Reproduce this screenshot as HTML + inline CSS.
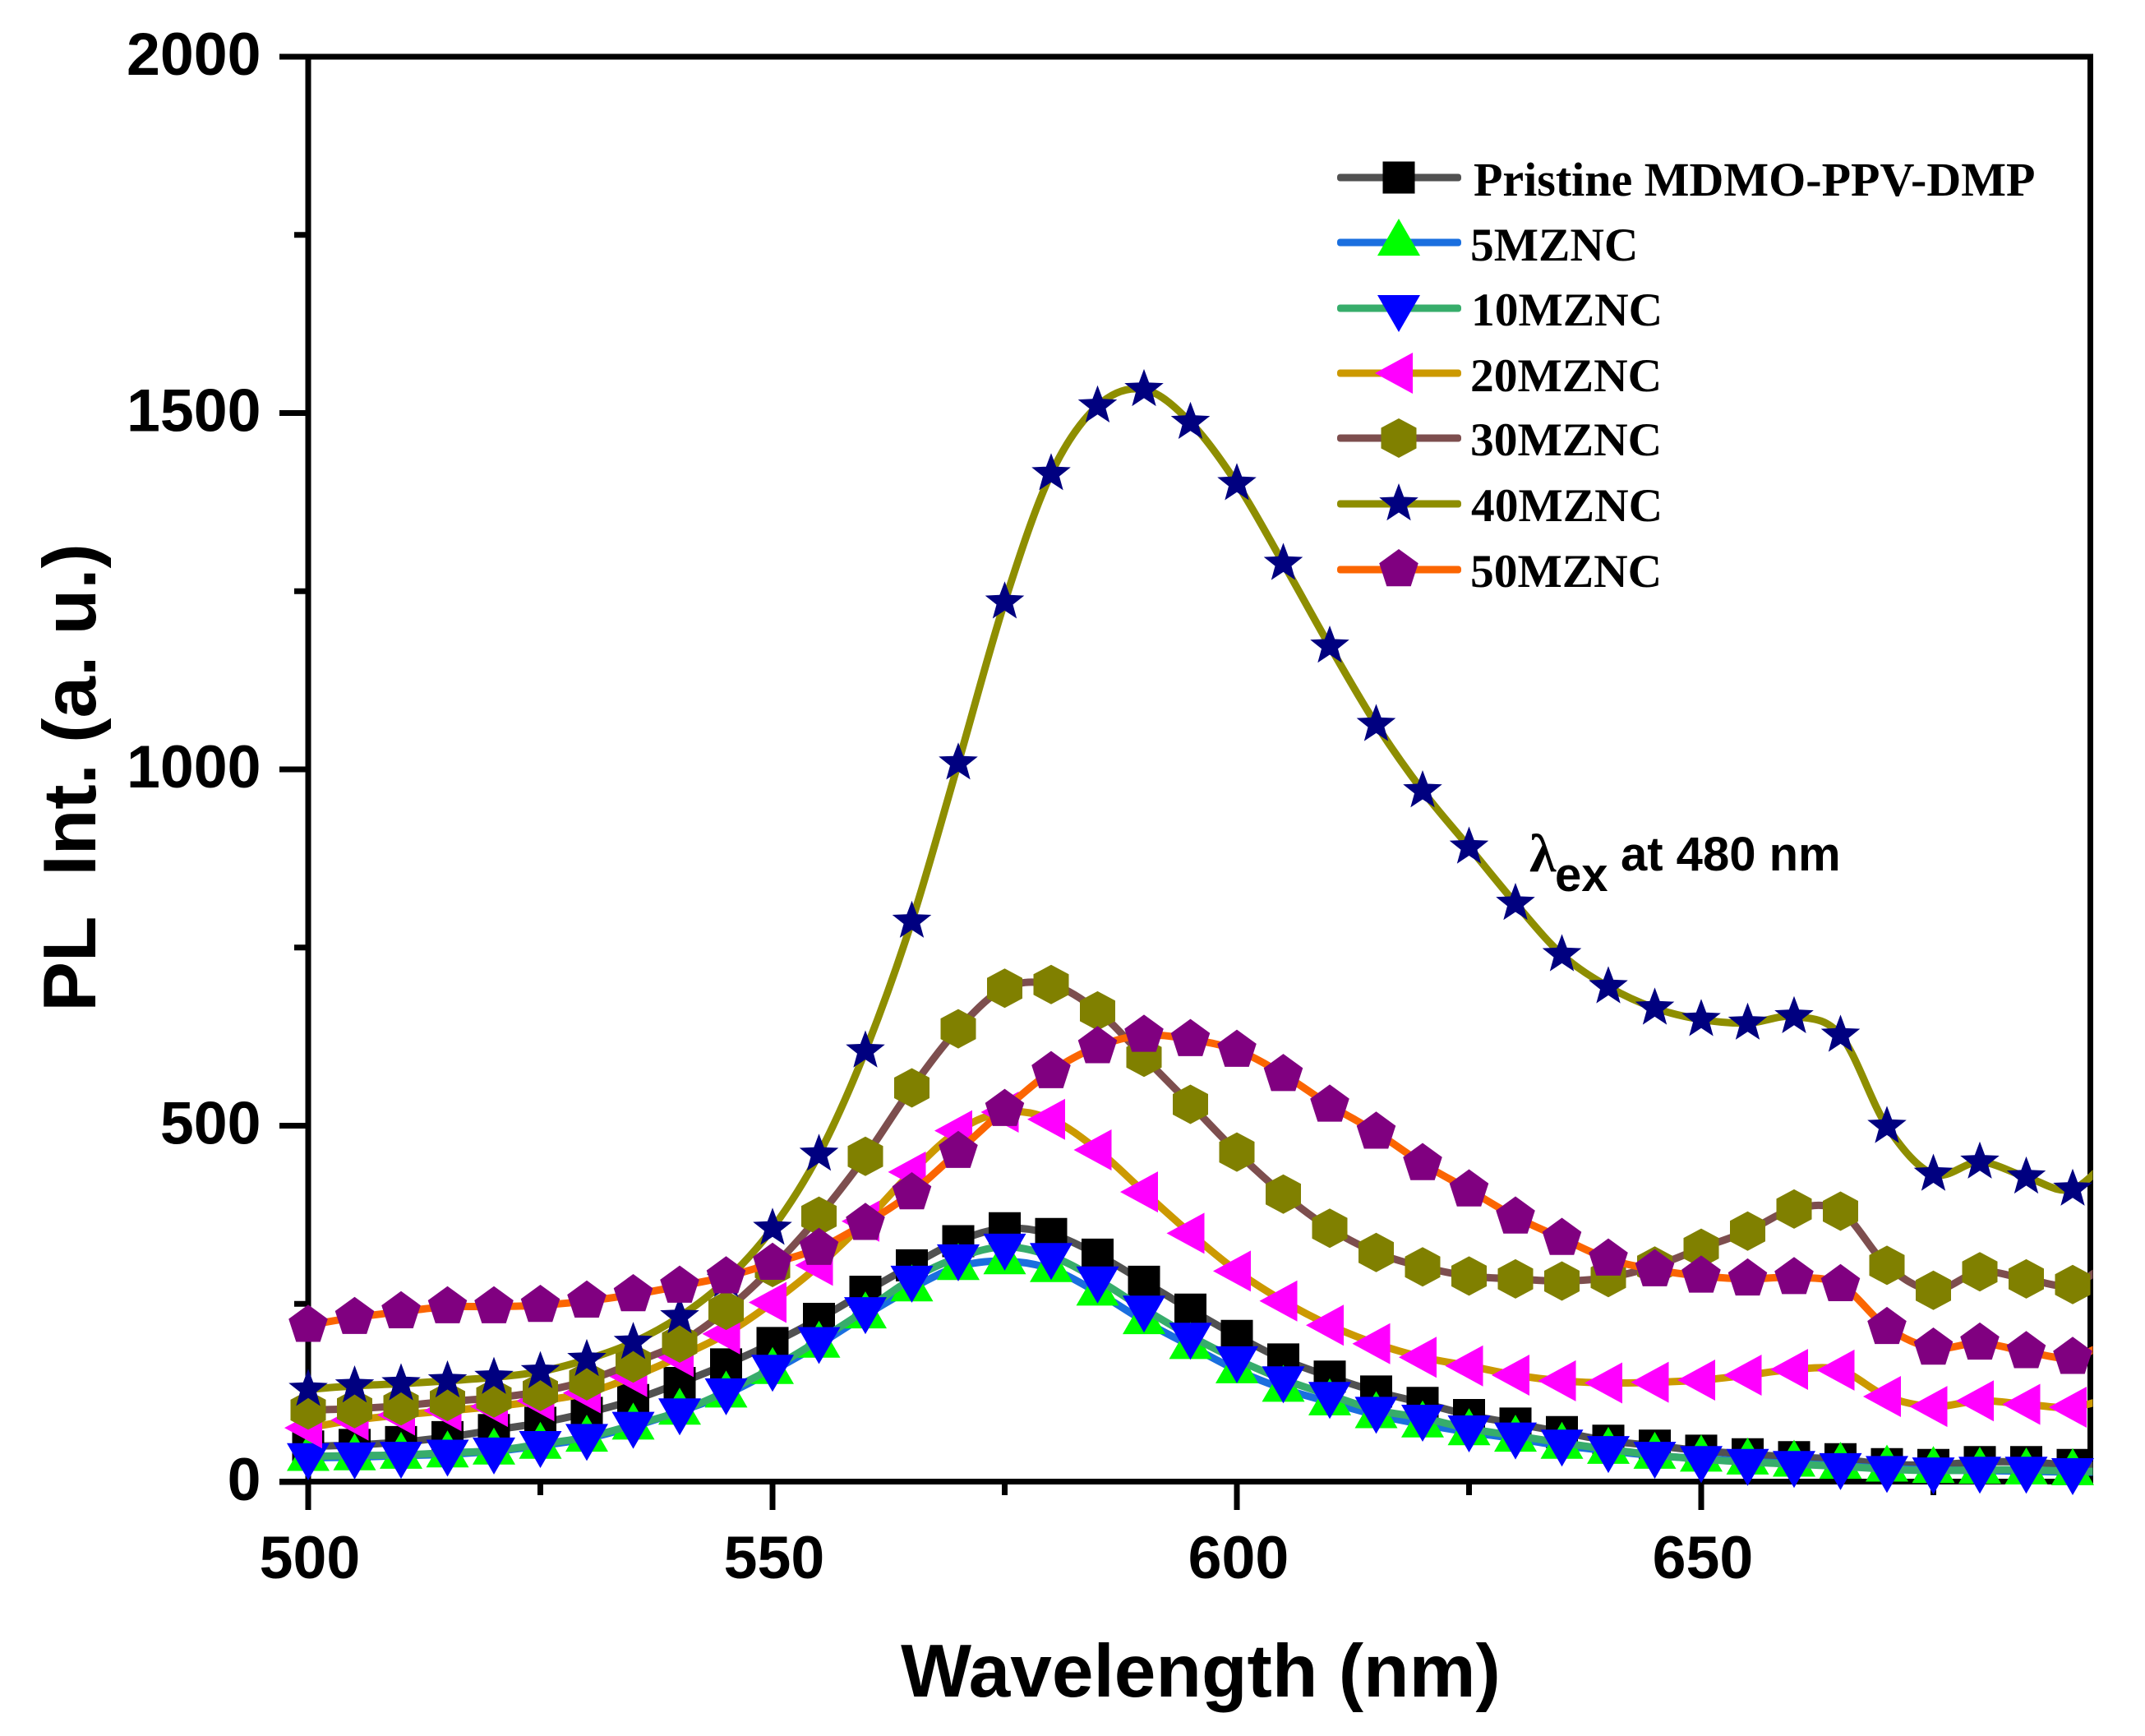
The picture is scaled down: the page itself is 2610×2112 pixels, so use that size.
<!DOCTYPE html>
<html lang="en">
<head>
<meta charset="utf-8">
<title>PL intensity vs wavelength</title>
<style>
html,body{margin:0;padding:0;background:#fff;width:2610px;height:2112px;overflow:hidden}
svg{display:block}
.sans{font-family:"Liberation Sans",Arial,sans-serif;font-weight:bold;fill:#000}
.serif{font-family:"Liberation Serif","Times New Roman",serif;font-weight:bold;fill:#000}
</style>
</head>
<body>
<svg id="chart" xmlns="http://www.w3.org/2000/svg" width="2610" height="2112" viewBox="0 0 2610 2112">
  <rect x="0" y="0" width="2610" height="2112" fill="#ffffff"/>
  <defs>
    <clipPath id="plot-clip"><rect x="371" y="60" width="2175.5" height="1760"/></clipPath>
  </defs>
  <g id="axes"></g>
  <g id="series"></g>
  <text class="sans" x="1461" y="2064" font-size="91" text-anchor="middle">Wavelength (nm)</text>
  <text class="sans" transform="translate(116 946) rotate(-90)" font-size="91" text-anchor="middle" style="white-space:pre">PL  Int. (a. u.)</text>
  <g id="legend"></g>
  <g>
    <text x="1861" y="1060" font-size="66" style="font-family:'Liberation Serif',serif;font-weight:bold">λ</text>
    <text class="sans" x="1892" y="1084" font-size="58">ex</text>
    <text class="sans" x="1972" y="1059" font-size="58">at 480 nm</text>
  </g>
</svg>
<script>
var wavelengths = [500,505,510,515,520,525,530,535,540,545,550,555,560,565,570,575,580,585,590,595,600,605,610,615,620,625,630,635,640,645,650,655,660,665,670,675,680,685,690,695];
var pristine = [50,52,56,63,73,83,97,115,139,165,195,229,267,304,338,356,348,319,281,242,205,172,148,127,111,94,82,70,58,51,44,39,35,32,25,24,28,28,24,24];
var mznc5 = [34,35,37,39,43,51,61,78,99,123,156,193,234,272,302,310,299,266,226,191,157,131,112,94,81,70,61,51,44,37,33,29,26,23,19,17,16,15,14,14];
var mznc10 = [36,37,38,41,44,53,63,80,99,127,160,199,241,285,315,330,317,284,243,205,172,144,122,101,90,75,65,55,46,38,32,28,25,22,18,16,17,17,15,15];
var mznc20 = [76,87,94,100,106,114,125,148,176,208,252,304,366,435,493,519,509,466,407,349,296,254,220,194,175,163,150,142,139,140,143,150,158,157,120,106,114,109,105,122];
var mznc30 = [101,103,107,113,118,127,142,167,195,241,301,373,457,553,636,693,698,661,596,530,463,404,356,322,302,289,285,282,287,303,328,352,383,380,304,269,295,285,277,320];
var mznc40 = [130,135,138,142,147,155,172,196,232,283,356,460,605,787,1009,1235,1415,1510,1533,1487,1401,1289,1173,1063,970,891,812,740,695,665,649,644,653,627,499,432,449,428,411,470];
var mznc50 = [220,231,239,246,246,248,254,263,275,288,307,328,363,406,464,523,576,611,627,621,606,572,529,491,447,410,372,342,313,298,289,285,287,277,217,188,195,183,175,205];
var xTickLabels = [500,550,600,650];
var xMinorTicks = [525,575,625,675];
var yTickLabels = [0,500,1000,1500,2000];
var yMinorTicks = [250,750,1250,1750];
var seriesNames = ['Pristine MDMO-PPV-DMP','5MZNC','10MZNC','20MZNC','30MZNC','40MZNC','50MZNC'];
var seriesValues = [pristine,mznc5,mznc10,mznc20,mznc30,mznc40,mznc50];

var NS = 'http://www.w3.org/2000/svg';
var X_MIN = 500, X_PX0 = 375, X_SCALE = 11.3, X_LIMIT = 692;
var Y_PX0 = 1803, Y_SCALE = 0.867;
var LEFT = 375, RIGHT = 2543.5, TOP = 69, BOTTOM = 1802.5;

function xPos(v){ return X_PX0 + (v - X_MIN) * X_SCALE; }
function yPos(v){ return Y_PX0 - v * Y_SCALE; }

function mk(tag, attrs, parent){
  var e = document.createElementNS(NS, tag);
  for (var k in attrs) e.setAttribute(k, attrs[k]);
  parent.appendChild(e);
  return e;
}
function regular(n, r, inner){
  var pts = [], count = inner ? n * 2 : n;
  for (var i = 0; i < count; i++){
    var rad = inner && i % 2 ? inner : r;
    var a = -Math.PI / 2 + i * 2 * Math.PI / count;
    pts.push((rad * Math.cos(a)).toFixed(2) + ',' + (rad * Math.sin(a)).toFixed(2));
  }
  return pts.join(' ');
}
var markerShapes = {
  square: '-19.5,-19.5 19.5,-19.5 19.5,19.5 -19.5,19.5',
  up: '0,-29 26,16 -26,16',
  down: '0,29 26,-16 -26,-16',
  left: '-29,0 17,-25 17,25',
  hex: '0,-24 21.5,-12.5 21.5,12.5 0,24 -21.5,12.5 -21.5,-12.5',
  star: regular(5, 25, 10.5),
  pent: regular(5, 25)
};
var seriesShape = ['square','up','down','left','hex','star','pent'];
var lineColors = ['#515151','#1A6FDF','#37AD6B','#CC9900','#7D4E4E','#8E8E00','#FB6501'];
var markColors = ['#000000','#00FF00','#0000FF','#FF00FF','#808000','#000080','#800080'];
var legendLineY = [216,295,375,454,533,613,693];
var legendBase = [238,317,396,476,554,634,714];
var legendTextX = [1793,1789,1790,1789,1789,1790,1789];
var legendFontSize = [58,57.5,57.5,57.5,57.5,57.5,57.5];

function smoothPath(xs, ys){
  var d = 'M' + xs[0].toFixed(1) + ' ' + ys[0].toFixed(1);
  for (var i = 0; i < xs.length - 1; i++){
    var p0 = Math.max(i - 1, 0), p3 = Math.min(i + 2, xs.length - 1);
    var c1x = xs[i] + (xs[i + 1] - xs[p0]) / 6, c1y = ys[i] + (ys[i + 1] - ys[p0]) / 6;
    var c2x = xs[i + 1] - (xs[p3] - xs[i]) / 6, c2y = ys[i + 1] - (ys[p3] - ys[i]) / 6;
    d += 'C' + c1x.toFixed(1) + ' ' + c1y.toFixed(1) + ' ' + c2x.toFixed(1) + ' ' + c2y.toFixed(1) + ' ' + xs[i + 1].toFixed(1) + ' ' + ys[i + 1].toFixed(1);
  }
  return d;
}

/* axes */
var axes = document.getElementById('axes');
var topAxis = mk('line', {x1:340, y1:TOP, x2:RIGHT + 3.5, y2:TOP, stroke:'#000', 'stroke-width':7}, axes);


var bottomAxis = mk('line', {x1:340, y1:BOTTOM, x2:RIGHT + 3.5, y2:BOTTOM, stroke:'#000', 'stroke-width':7}, axes);


var leftAxis = mk('line', {x1:LEFT, y1:TOP - 3.5, x2:LEFT, y2:BOTTOM + 3.5, stroke:'#000', 'stroke-width':7}, axes);


var rightAxis = mk('line', {x1:RIGHT, y1:TOP - 3.5, x2:RIGHT, y2:BOTTOM + 3.5, stroke:'#000', 'stroke-width':7}, axes);



yTickLabels.forEach(function(v){
  var t = mk('line', {x1:340, y1:yPos(v), x2:LEFT, y2:yPos(v), stroke:'#000', 'stroke-width':7}, axes);
  
  
  var l = mk('text', {'class':'sans', 'font-size':73.5, 'text-anchor':'end', x:317.5, y:yPos(v) + 22}, axes);
  l.textContent = String(v);
  
  
});
yMinorTicks.forEach(function(v){
  var t = mk('line', {x1:358, y1:yPos(v), x2:LEFT, y2:yPos(v), stroke:'#000', 'stroke-width':7}, axes);
  
  
});
xTickLabels.forEach(function(v){
  var t = mk('line', {x1:xPos(v), y1:BOTTOM, x2:xPos(v), y2:1837, stroke:'#000', 'stroke-width':7}, axes);
  
  
  var l = mk('text', {'class':'sans', 'font-size':73.5, 'text-anchor':'middle', x:xPos(v) + 2, y:1920}, axes);
  l.textContent = String(v);
  
  
});
xMinorTicks.forEach(function(v){
  var t = mk('line', {x1:xPos(v), y1:BOTTOM, x2:xPos(v), y2:1819, stroke:'#000', 'stroke-width':7}, axes);
  
  
});

/* series */
var seriesLayer = document.getElementById('series');
seriesValues.forEach(function(vals, s){
  var g = mk('g', {}, seriesLayer);
  
  
  var xs = wavelengths.map(xPos);
  var ys = vals.map(yPos);
  var line = mk('path', {d:smoothPath(xs, ys), fill:'none', stroke:lineColors[s], 'stroke-width':9, 'stroke-linejoin':'round', 'clip-path':'url(#plot-clip)'}, g);
  
  
  wavelengths.forEach(function(w, i){
    if (w > X_LIMIT) return;
    var m = mk('polygon', {points:markerShapes[seriesShape[s]], fill:markColors[s], transform:'translate(' + xPos(w).toFixed(1) + ' ' + yPos(vals[i]).toFixed(1) + ')'}, g);
    
    
  });
});

/* legend */
var legend = document.getElementById('legend');
seriesNames.forEach(function(name, s){
  var g = mk('g', {}, legend);
  
  
  var swatch = mk('rect', {x:1627, y:legendLineY[s] - 4.5, width:151, height:9, rx:3.5, fill:lineColors[s]}, g);
  
  
  var mark = mk('polygon', {points:markerShapes[seriesShape[s]], fill:markColors[s], transform:'translate(1702 ' + legendLineY[s] + ')'}, g);
  
  
  var label = mk('text', {'class':'serif', x:legendTextX[s], y:legendBase[s], 'font-size':legendFontSize[s]}, g);
  label.textContent = name;
  
  
});
</script>
</body>
</html>
